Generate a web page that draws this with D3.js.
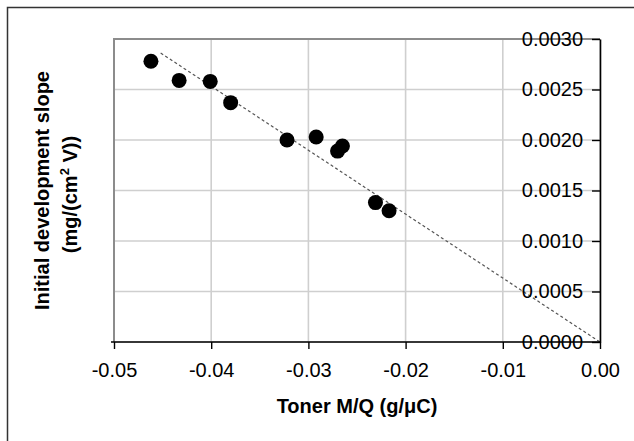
<!DOCTYPE html>
<html>
<head>
<meta charset="utf-8">
<script src="https://cdn.jsdelivr.net/npm/d3@7"></script>
<style>
  html, body { margin: 0; padding: 0; background: #fff; }
  svg { display: block; }
  text { font-family: "Liberation Sans", Arial, sans-serif; }
</style>
</head>
<body>
<script>
// Data
const tonerMQ = [-0.0462, -0.0433, -0.0401, -0.0380, -0.0322, -0.0292, -0.0270, -0.0265, -0.0231, -0.0217];
const devSlope = [0.00278, 0.00259, 0.00258, 0.00237, 0.00200, 0.00203, 0.00189, 0.00194, 0.00138, 0.00130];
const xTicks = [-0.05, -0.04, -0.03, -0.02, -0.01, 0.00];
const yTicks = [0.0000, 0.0005, 0.0010, 0.0015, 0.0020, 0.0025, 0.0030];
const trendSlope = -0.0633;            // linear trendline through origin
const trendRange = [-0.0452, 0.0];
const xTitle = "Toner M/Q (g/\u03BCC)";
const yTitle1 = "Initial development slope";

const W = 634, H = 441;
const plot = { left: 114, right: 600, top: 39, bottom: 342 };

const svg = d3.select("body").append("svg").attr("width", W).attr("height", H);

// outer frame (right/bottom edges fall outside the picture)
svg.append("rect").attr("x", 7.5).attr("y", 7.5).attr("width", W + 20).attr("height", H + 20)
  .attr("fill", "none").attr("stroke", "#333").attr("stroke-width", 1.5);

const x = d3.scaleLinear().domain([-0.05, 0]).range([plot.left, plot.right]);
const y = d3.scaleLinear().domain([0, 0.003]).range([plot.bottom, plot.top]);

const hyphen = f => (d => f(d).replace("\u2212", "-"));

// gridlines
const grid = svg.append("g");
grid.selectAll("line.v").data(xTicks).join("line")
  .attr("x1", d => x(d)).attr("x2", d => x(d))
  .attr("y1", plot.top).attr("y2", plot.bottom)
  .attr("stroke", "#cfcfcf").attr("stroke-width", 1.6);
grid.selectAll("line.h").data(yTicks).join("line")
  .attr("x1", plot.left).attr("x2", plot.right)
  .attr("y1", d => y(d)).attr("y2", d => y(d))
  .attr("stroke", "#cfcfcf").attr("stroke-width", 1.6);

// plot-area border (left & top gray)
svg.append("path")
  .attr("d", `M${plot.left},${plot.bottom} V${plot.top} H${plot.right}`)
  .attr("fill", "none").attr("stroke", "#8c8c8c").attr("stroke-width", 2);

// trendline
svg.append("line")
  .attr("x1", x(trendRange[0])).attr("y1", y(trendSlope * trendRange[0]))
  .attr("x2", x(trendRange[1])).attr("y2", y(trendSlope * trendRange[1]))
  .attr("stroke", "#555").attr("stroke-width", 1.2)
  .attr("stroke-dasharray", "3,2.5");

// x axis
const xAxis = d3.axisBottom(x).tickValues(xTicks).tickFormat(hyphen(d3.format(".2f")))
  .tickSizeInner(7).tickSizeOuter(0).tickPadding(14);
const gx = svg.append("g").attr("transform", `translate(0,${plot.bottom})`).call(xAxis);
gx.select(".domain").attr("stroke", "#000").attr("stroke-width", 1.6)
  .attr("d", `M${plot.left - 3},0H${plot.right}`);
gx.selectAll(".tick line").attr("stroke", "#000").attr("stroke-width", 1.4);
gx.selectAll(".tick text").attr("font-size", 20).attr("fill", "#000")
  .attr("font-family", "'Liberation Sans', Arial, sans-serif");

// y axis (on the right, ticks pointing inward)
const yAxis = d3.axisLeft(y).tickValues(yTicks).tickFormat(d3.format(".4f"))
  .tickSizeInner(8).tickSizeOuter(0).tickPadding(9);
const gy = svg.append("g").attr("transform", `translate(${plot.right},0)`).call(yAxis);
gy.select(".domain").attr("stroke", "#000").attr("stroke-width", 1.6);
gy.selectAll(".tick line").attr("stroke", "#000").attr("stroke-width", 1.4);
gy.selectAll(".tick text").attr("font-size", 20).attr("fill", "#000")
  .attr("font-family", "'Liberation Sans', Arial, sans-serif");

// points
svg.append("g").selectAll("circle").data(tonerMQ.map((v, i) => [v, devSlope[i]])).join("circle")
  .attr("cx", d => x(d[0])).attr("cy", d => y(d[1])).attr("r", 7.5).attr("fill", "#000");

// axis titles
svg.append("text").attr("x", (plot.left + plot.right) / 2).attr("y", 413)
  .attr("text-anchor", "middle").attr("font-size", 20).attr("font-weight", "bold")
  .text(xTitle);

const yc = (plot.top + plot.bottom) / 2;
const yt = svg.append("g").attr("transform", `translate(0,${yc}) rotate(-90)`);
yt.append("text").attr("x", 0).attr("y", 49).attr("text-anchor", "middle")
  .attr("font-size", 20).attr("font-weight", "bold").text(yTitle1);
const t2 = yt.append("text").attr("x", -4).attr("y", 77).attr("text-anchor", "middle")
  .attr("font-size", 20).attr("font-weight", "bold");
t2.append("tspan").text("(mg/(cm");
t2.append("tspan").attr("dy", -8).attr("font-size", 13).text("2");
t2.append("tspan").attr("dy", 8).text(" V))");
</script>
</body>
</html>
